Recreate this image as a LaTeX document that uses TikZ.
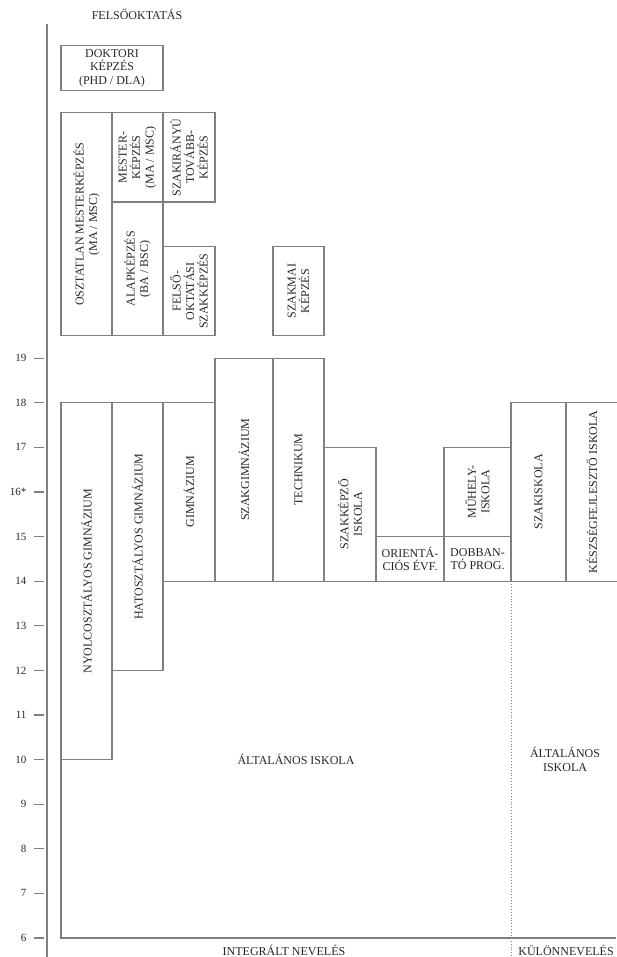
\documentclass[tikz,border=0pt]{standalone}
\usepackage{fontspec}
\setmainfont{Liberation Serif}
\usepackage{tikz}

\begin{document}
\begin{tikzpicture}[x = 1pt, y = 44.6pt,
	box/.style = {draw = black!50, line width = 1.1pt},
	lbl/.style = {font = \fontsize{12}{13.5}\selectfont, align = center, text = black!85, inner sep = 0pt},
	uplbl/.style = {lbl, rotate = 90}]
	\useasboundingbox (0,5.574) rectangle (616,27.03);

	% age axis
	\draw [box] (47,5.574) -- (47,26.5);
	\foreach \y in {6,...,19}
	{
		\draw [box] (34,\y) -- (44,\y);
	}
	\foreach \y in {6,...,15,17,18,19}
	{
		\node [left, font = \fontsize{11}{11}\selectfont, text = black!85] (age\y) at (30,\y) {\y};
	}
	\node [left, font = \fontsize{11}{11}\selectfont, text = black!85] (age16) at (30,16) {16*};

	% higher education
	\node [lbl] (felso) at (137,26.7) {FELSŐOKTATÁS};

	\draw [box] (61,25) rectangle (163,26);
	\draw [box] (61,19.5) rectangle (112,24.5);
	\draw [box] (112,22.5) rectangle (163,24.5);
	\draw [box] (112,19.5) rectangle (163,22.5);
	\draw [box] (163,22.5) rectangle (215,24.5);
	\draw [box] (163,19.5) rectangle (215,21.5);
	\draw [box] (273,19.5) rectangle (324,21.5);

	\node [lbl] (doktori) at (112,25.5) {DOKTORI\\KÉPZÉS\\(PHD / DLA)};
	\node [uplbl] (osztatlan) at (86.5,22) {OSZTATLAN MESTERKÉPZÉS\\(MA / MSC)};
	\node [uplbl] (mester) at (137.5,23.5) {MESTER-\\KÉPZÉS\\(MA / MSC)};
	\node [uplbl] (alap) at (137.5,21) {ALAPKÉPZÉS\\(BA / BSC)};
	\node [uplbl] (szakiranyu) at (189,23.5) {SZAKIRÁNYÚ\\TOVÁBB-\\KÉPZÉS};
	\node [uplbl] (foszk) at (189,20.5) {FELSŐ-\\OKTATÁSI\\SZAKKÉPZÉS};
	\node [uplbl] (szakmai) at (298.5,20.5) {SZAKMAI\\KÉPZÉS};

	% secondary schools
	\draw [box] (61,10) rectangle (112,18);
	\draw [box] (112,12) rectangle (163,18);
	\draw [box] (163,14) rectangle (215,18);
	\draw [box] (215,14) rectangle (273,19);
	\draw [box] (273,14) rectangle (324,19);
	\draw [box] (324,14) rectangle (376,17);
	\draw [box] (376,14) rectangle (444,15);
	\draw [box] (444,15) rectangle (511,17);
	\draw [box] (444,14) rectangle (511,15);
	\draw [box] (511,14) rectangle (566,18);
	\draw [box] (566,14) rectangle (625,18);

	\node [uplbl] (nyolc) at (86.5,14) {NYOLCOSZTÁLYOS GIMNÁZIUM};
	\node [uplbl] (hat) at (137.5,15) {HATOSZTÁLYOS GIMNÁZIUM};
	\node [uplbl] (gimn) at (189,16) {GIMNÁZIUM};
	\node [uplbl] (szakgimn) at (244,16.5) {SZAKGIMNÁZIUM};
	\node [uplbl] (techn) at (298.5,16.5) {TECHNIKUM};
	\node [uplbl] (szakkepzo) at (350,15.5) {SZAKKÉPZŐ\\ISKOLA};
	\node [lbl] (orient) at (410,14.5) {ORIENTÁ-\\CIÓS ÉVF.};
	\node [uplbl] (muhely) at (477.5,16) {MŰHELY-\\ISKOLA};
	\node [lbl] (dobbanto) at (477.5,14.5) {DOBBAN-\\TÓ PROG.};
	\node [uplbl] (szakisk) at (538.5,16) {SZAKISKOLA};
	\node [uplbl] (keszseg) at (592,16) {KÉSZSÉGFEJLESZTŐ ISKOLA};

	% primary school
	\draw [box] (61,10) -- (61,6) -- (616,6);
	\draw [dotted, draw = black!50, line width = 0.9pt] (511,14) -- (511,5.574);

	\node [lbl] (altisk) at (296,10) {ÁLTALÁNOS ISKOLA};
	\node [lbl] (altisk2) at (565,10) {ÁLTALÁNOS\\ISKOLA};

	\node [lbl] (integralt) at (284,5.73) {INTEGRÁLT NEVELÉS};
	\node [lbl] (kulon) at (566,5.73) {KÜLÖNNEVELÉS};
\end{tikzpicture}
\end{document}
